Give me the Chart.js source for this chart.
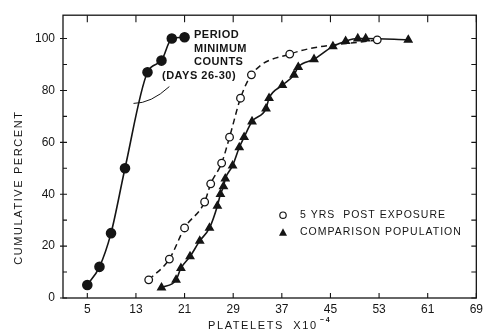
<!DOCTYPE html>
<html><head><meta charset="utf-8">
<script src="https://cdn.jsdelivr.net/npm/chart.js@4/dist/chart.umd.min.js"></script>
<style>html,body{margin:0;padding:0;background:#fff}#wrap{width:487px;height:335px}</style>
</head><body><div id="wrap"><canvas id="c" width="487" height="335"></canvas></div>
<script>
const xTicks = [5, 13, 21, 29, 37, 45, 53, 61, 69];
const yTicks = [0, 20, 40, 60, 80, 100];
const yMinorTicks = [10, 30, 50, 70, 90];

const periodX = [5, 7, 8.9, 11.2, 14.9, 17.2, 18.9, 21];
const periodY = [5, 12, 25, 50, 87, 91.5, 100, 100.5];

const postX = [15.1, 18.5, 21, 24.3, 25.3, 27.1, 28.4, 30.2, 32, 38.3, 52.7];
const postY = [7, 15, 27, 37, 44, 52, 62, 77, 86, 94, 99.5];

const compX = [17.2, 19.6, 20.4, 21.9, 23.5, 25.1, 26.4, 26.9, 27.4, 27.7, 28.9, 30, 30.8, 32.1, 34.4, 34.9, 37.1, 39, 39.7, 42.3, 45.4, 47.5, 49.5, 50.8, 57.8];
const compY = [4, 7, 11.5, 16, 22, 27, 35.5, 40, 43, 46, 51, 58, 62, 68, 73, 77, 82, 86, 89, 92, 97, 99, 100, 100, 99.5];

const annotationLines = ['PERIOD', 'MINIMUM', 'COUNTS', '(DAYS 26-30)'];
const legendLabels = ['5 YRS  POST EXPOSURE', 'COMPARISON POPULATION'];
const xTitle = 'PLATELETS  X10';
const xTitleSup = '\u2212 4';
const yTitle = 'CUMULATIVE PERCENT';

const pts = (xs, ys) => xs.map((x, i) => ({x, y: ys[i]}));
const INK = '#151515';
const FONT = '"Liberation Sans", "DejaVu Sans", sans-serif';

const decor = {
  id: 'decor',
  afterDraw(chart) {
    const ctx = chart.ctx, a = chart.chartArea;
    const xs = chart.scales.x, ys = chart.scales.y;
    ctx.save();
    ctx.strokeStyle = INK; ctx.lineWidth = 1.3;
    ctx.strokeRect(a.left, a.top, a.right - a.left, a.bottom - a.top);
    ctx.lineWidth = 1.1;
    ctx.beginPath();
    xTicks.forEach(v => {
      const p = xs.getPixelForValue(v);
      ctx.moveTo(p, a.top); ctx.lineTo(p, a.top + 7);
      ctx.moveTo(p, a.bottom); ctx.lineTo(p, a.bottom - 5);
    });
    yTicks.concat(yMinorTicks).forEach(v => {
      const p = ys.getPixelForValue(v);
      ctx.moveTo(a.left, p); ctx.lineTo(a.left + 4, p);
      ctx.moveTo(a.right, p); ctx.lineTo(a.right - 5, p);
    });
    yTicks.forEach(v => {
      const p = ys.getPixelForValue(v);
      ctx.moveTo(a.left, p); ctx.lineTo(a.left - 3, p);
    });
    ctx.stroke();

    // annotation text
    ctx.fillStyle = INK;
    ctx.font = 'bold 11px ' + FONT;
    ctx.textBaseline = 'middle';
    ctx.textAlign = 'left';
    ctx.letterSpacing = '0.5px';
    const ax = a.left + 131, ay = a.top + 20;
    ctx.fillText(annotationLines[0], ax, ay);
    ctx.fillText(annotationLines[1], ax, ay + 14);
    ctx.fillText(annotationLines[2], ax, ay + 27);
    ctx.fillText(annotationLines[3], ax - 32, ay + 41);
    // leader line
    ctx.lineWidth = 1;
    ctx.beginPath();
    ctx.moveTo(xs.getPixelForValue(12.6), ys.getPixelForValue(75));
    ctx.quadraticCurveTo(xs.getPixelForValue(15.5), ys.getPixelForValue(75), xs.getPixelForValue(18.5), ys.getPixelForValue(81.5));
    ctx.stroke();

    // legend
    ctx.font = '10.5px ' + FONT;
    ctx.letterSpacing = '1px';
    const lx = a.left + 220, ly1 = a.top + 200, ly2 = a.top + 217;
    ctx.beginPath(); ctx.arc(lx, ly1, 3.2, 0, Math.PI * 2);
    ctx.fillStyle = '#fff'; ctx.fill(); ctx.lineWidth = 1.2; ctx.stroke();
    ctx.fillStyle = INK;
    ctx.beginPath(); ctx.moveTo(lx, ly2 - 4); ctx.lineTo(lx + 4, ly2 + 3.5); ctx.lineTo(lx - 4, ly2 + 3.5); ctx.closePath(); ctx.fill();
    ctx.fillText(legendLabels[0], lx + 17, ly1);
    ctx.fillText(legendLabels[1], lx + 17, ly2);

    // axis titles
    ctx.font = '11px ' + FONT;
    ctx.letterSpacing = '1.6px';
    ctx.textAlign = 'center';
    ctx.save();
    ctx.translate(19, (a.top + a.bottom) / 2 + 31);
    ctx.rotate(-Math.PI / 2);
    ctx.fillText(yTitle, 0, 0);
    ctx.restore();
    ctx.textAlign = 'left';
    const tx = 208, ty = 326;
    ctx.fillText(xTitle, tx, ty);
    const w = ctx.measureText(xTitle).width;
    ctx.font = 'bold 7px ' + FONT;
    ctx.letterSpacing = '0px';
    ctx.fillText(xTitleSup, tx + w + 2, ty - 6);
    ctx.restore();
  }
};

new Chart(document.getElementById('c'), {
  type: 'scatter',
  data: {
    datasets: [
      {
        label: 'Period minimum counts (days 26-30)',
        data: pts(periodX, periodY),
        showLine: true, cubicInterpolationMode: 'monotone',
        borderColor: INK, borderWidth: 1.6,
        pointStyle: 'circle', pointRadius: 4.5,
        pointBackgroundColor: INK, pointBorderColor: INK
      },
      {
        label: '5 yrs post exposure',
        data: pts(postX, postY),
        showLine: true, cubicInterpolationMode: 'monotone',
        borderColor: INK, borderWidth: 1.5, borderDash: [6, 4],
        pointStyle: 'circle', pointRadius: 3.8, pointBorderWidth: 1.3,
        pointBackgroundColor: '#fff', pointBorderColor: INK
      },
      {
        label: 'Comparison population',
        data: pts(compX, compY),
        showLine: true, cubicInterpolationMode: 'monotone',
        borderColor: INK, borderWidth: 1.6,
        pointStyle: 'triangle', pointRadius: 4.1,
        pointBackgroundColor: INK, pointBorderColor: INK
      }
    ]
  },
  options: {
    responsive: false, animation: false, devicePixelRatio: 1,
    layout: { padding: { top: 13, right: 9, left: 0, bottom: 0 } },
    plugins: { legend: { display: false }, tooltip: { enabled: false } },
    scales: {
      x: {
        type: 'linear', min: 1, max: 69,
        afterBuildTicks: s => { s.ticks = xTicks.map(v => ({value: v})); },
        afterFit: s => { s.height = 37; },
        grid: { display: false, drawTicks: false },
        border: { display: false },
        ticks: { color: INK, font: { family: FONT, size: 12 }, padding: 4, maxRotation: 0, autoSkip: false }
      },
      y: {
        type: 'linear', min: 0, max: 109,
        afterBuildTicks: s => { s.ticks = yTicks.map(v => ({value: v})); },
        afterFit: s => { s.width = 63; },
        grid: { display: false, drawTicks: false },
        border: { display: false },
        ticks: { color: INK, font: { family: FONT, size: 12 }, padding: 8 }
      }
    }
  },
  plugins: [decor]
});
</script></body></html>
